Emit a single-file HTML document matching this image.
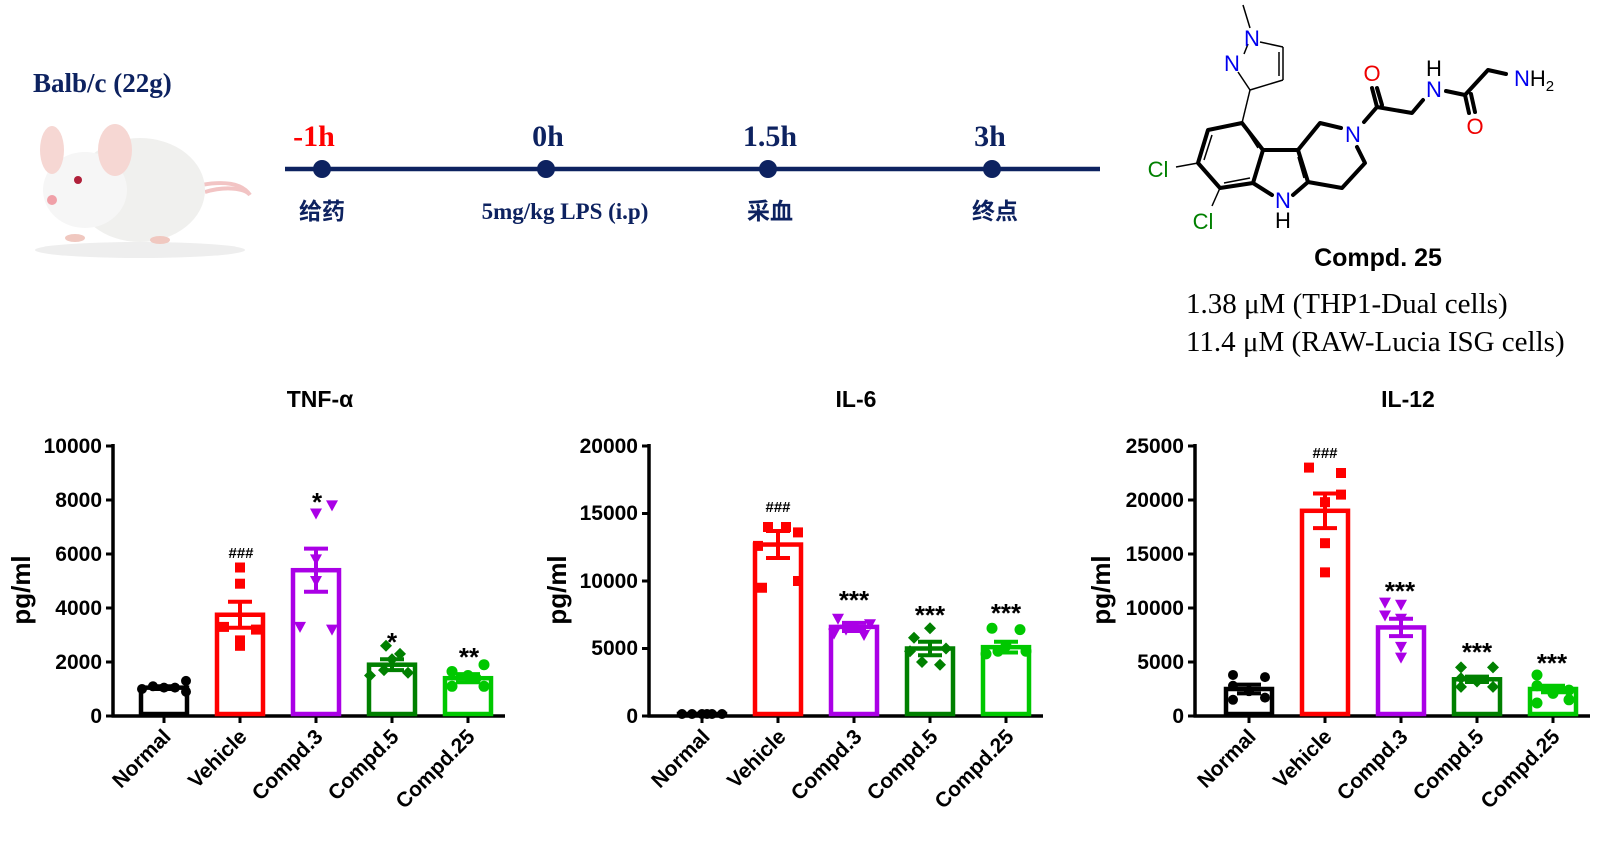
<!DOCTYPE html>
<html><head><meta charset="utf-8"><style>
html,body{margin:0;padding:0;background:#fff;width:1608px;height:841px;overflow:hidden}
svg{display:block}
.t{font-family:"Liberation Sans",Arial,sans-serif;font-weight:bold}
.s{font-family:"Liberation Serif","Noto Serif CJK SC",serif;font-weight:bold;fill:#0d2260}
.cn{font-family:"Noto Sans CJK SC","WenQuanYi Zen Hei",sans-serif;font-weight:bold;fill:#0d2260}
.at{font-family:"Liberation Sans",Arial,sans-serif;font-size:22px}
</style></head><body>
<svg id="s" width="1608" height="841" viewBox="0 0 1608 841" xmlns="http://www.w3.org/2000/svg">
<text x="33" y="92" class="s" font-size="27">Balb/c (22g)</text>
<g>
<ellipse cx="140" cy="250" rx="105" ry="8" fill="#eee"/>
<path d="M180 190 C215 180 240 180 250 195 C245 188 225 186 205 192" fill="none" stroke="#f2c4c4" stroke-width="4"/>
<ellipse cx="140" cy="190" rx="65" ry="52" fill="#f0f0ee"/>
<ellipse cx="85" cy="190" rx="42" ry="38" fill="#f6f6f6"/>
<ellipse cx="52" cy="150" rx="12" ry="24" fill="#f6d7d3"/>
<ellipse cx="115" cy="150" rx="17" ry="26" fill="#f6d7d3"/>
<circle cx="78" cy="180" r="4" fill="#b0203a"/>
<circle cx="52" cy="200" r="5" fill="#f0a0a8"/>
<ellipse cx="75" cy="238" rx="10" ry="4" fill="#f0c8c0"/>
<ellipse cx="160" cy="240" rx="10" ry="4" fill="#f0c8c0"/>
</g>
<line x1="285" y1="169" x2="1100" y2="169" stroke="#0d2260" stroke-width="4.5"/>
<circle cx="322" cy="169" r="9" fill="#0d2260"/>
<circle cx="546" cy="169" r="9" fill="#0d2260"/>
<circle cx="768" cy="169" r="9" fill="#0d2260"/>
<circle cx="992" cy="169" r="9" fill="#0d2260"/>
<text x="314" y="146" class="s" font-size="30" text-anchor="middle" style="fill:#ff0000">-1h</text>
<text x="548" y="146" class="s" font-size="30" text-anchor="middle">0h</text>
<text x="770" y="146" class="s" font-size="30" text-anchor="middle">1.5h</text>
<text x="990" y="146" class="s" font-size="30" text-anchor="middle">3h</text>
<text x="322" y="219" class="cn" font-size="23" text-anchor="middle">给药</text>
<text x="565" y="219" class="s" font-size="23" text-anchor="middle">5mg/kg  LPS (i.p)</text>
<text x="770" y="219" class="cn" font-size="23" text-anchor="middle">采血</text>
<text x="995" y="219" class="cn" font-size="23" text-anchor="middle">终点</text>
<g stroke="#000" stroke-width="1.5" fill="none">
<line x1="1243" y1="5" x2="1250" y2="28"/>
<line x1="1260" y1="42" x2="1283" y2="47"/>
<line x1="1283" y1="47" x2="1283" y2="80"/>
<line x1="1279" y1="52" x2="1279" y2="76"/>
<line x1="1283" y1="80" x2="1250" y2="90"/>
<line x1="1250" y1="90" x2="1238" y2="72"/>
<line x1="1244" y1="54" x2="1248" y2="44"/>
<line x1="1250" y1="90" x2="1242" y2="123"/>
<line x1="1198" y1="163" x2="1176" y2="167"/>
<line x1="1220" y1="188" x2="1212" y2="206"/>
<line x1="1212" y1="135" x2="1204" y2="160"/>
<line x1="1224" y1="183" x2="1250" y2="178"/>
<line x1="1245" y1="128" x2="1258" y2="148"/>
<line x1="1298" y1="157" x2="1304" y2="178"/>
</g>
<g stroke="#000" stroke-width="4" fill="none" stroke-linejoin="round" stroke-linecap="round">
<polyline points="1242,123 1208,130 1198,163 1220,188 1253,183 1263,150 1242,123"/>
<line x1="1263" y1="150" x2="1298" y2="150"/>
<polyline points="1253,183 1272,195"/>
<polyline points="1293,195 1308,182 1298,150"/>
<polyline points="1298,150 1320,123 1341,128"/>
<polyline points="1357,147 1365,163 1342,188 1308,182"/>
<polyline points="1364,122 1377,107 1412,113 1423,100"/>
<line x1="1377" y1="107" x2="1372" y2="88"/>
<line x1="1382" y1="105" x2="1377" y2="88"/>
<polyline points="1446,91 1465,95 1488,70 1506,74"/>
<line x1="1465" y1="95" x2="1469" y2="113"/>
<line x1="1471" y1="94" x2="1475" y2="112"/>
</g>
<g class="at" text-anchor="middle">
<text x="1252" y="46" fill="#0000ee">N</text>
<text x="1232" y="71" fill="#0000ee">N</text>
<text x="1353" y="142" fill="#0000ee">N</text>
<text x="1283" y="208" fill="#0000ee">N</text>
<text x="1283" y="228" fill="#000">H</text>
<text x="1434" y="97" fill="#0000ee">N</text>
<text x="1434" y="76" fill="#000">H</text>
<text x="1372" y="81" fill="#ee0000">O</text>
<text x="1475" y="134" fill="#ee0000">O</text>
<text x="1158" y="177" fill="#008000">Cl</text>
<text x="1203" y="229" fill="#008000">Cl</text>
</g>
<text x="1514" y="86" class="at" fill="#0000ee" text-anchor="start">N<tspan fill="#000">H</tspan><tspan fill="#000" font-size="15" dy="5">2</tspan></text>
<text x="1378" y="266" class="t" font-size="25" text-anchor="middle">Compd. 25</text>
<text x="1186" y="313" font-family="Liberation Serif,serif" font-size="29">1.38 μM (THP1-Dual cells)</text>
<text x="1186" y="351" font-family="Liberation Serif,serif" font-size="29">11.4 μM (RAW-Lucia ISG cells)</text>

<text x="320" y="407" class="t" font-size="23" text-anchor="middle">TNF-α</text>
<text x="856" y="407" class="t" font-size="23" text-anchor="middle">IL-6</text>
<text x="1408" y="407" class="t" font-size="23" text-anchor="middle">IL-12</text>
<text transform="translate(30,590) rotate(-90)" class="t" font-size="26" text-anchor="middle">pg/ml</text>
<text transform="translate(566,590) rotate(-90)" class="t" font-size="26" text-anchor="middle">pg/ml</text>
<text transform="translate(1121,590) rotate(-90)" class="t" font-size="26" text-anchor="middle" dx="0" dy="-11">pg/ml</text>
<g class="t" font-size="21" text-anchor="end">
<text x="102" y="453">10000</text><text x="102" y="507">8000</text><text x="102" y="561">6000</text><text x="102" y="615">4000</text><text x="102" y="669">2000</text><text x="102" y="723">0</text>
<text x="638" y="453">20000</text><text x="638" y="520">15000</text><text x="638" y="588">10000</text><text x="638" y="655">5000</text><text x="638" y="723">0</text>
<text x="1184" y="453">25000</text><text x="1184" y="507">20000</text><text x="1184" y="561">15000</text><text x="1184" y="615">10000</text><text x="1184" y="669">5000</text><text x="1184" y="723">0</text>
</g>
<g class="t" font-size="21" text-anchor="end">
<text transform="translate(172,738) rotate(-45)">Normal</text>
<text transform="translate(248,738) rotate(-45)">Vehicle</text>
<text transform="translate(324,738) rotate(-45)">Compd.3</text>
<text transform="translate(400,738) rotate(-45)">Compd.5</text>
<text transform="translate(476,738) rotate(-45)">Compd.25</text>
<text transform="translate(711,738) rotate(-45)">Normal</text>
<text transform="translate(787,738) rotate(-45)">Vehicle</text>
<text transform="translate(863,738) rotate(-45)">Compd.3</text>
<text transform="translate(939,738) rotate(-45)">Compd.5</text>
<text transform="translate(1015,738) rotate(-45)">Compd.25</text>
<text transform="translate(1257,738) rotate(-45)">Normal</text>
<text transform="translate(1333,738) rotate(-45)">Vehicle</text>
<text transform="translate(1409,738) rotate(-45)">Compd.3</text>
<text transform="translate(1485,738) rotate(-45)">Compd.5</text>
<text transform="translate(1561,738) rotate(-45)">Compd.25</text>
</g>
<g class="t" text-anchor="middle">
<text x="241" y="558" font-size="15">###</text>
<text x="317" y="511" font-size="26">*</text>
<text x="392" y="651" font-size="26">*</text>
<text x="469" y="666" font-size="26">**</text>
<text x="778" y="512" font-size="15">###</text>
<text x="854" y="609" font-size="26">***</text>
<text x="930" y="624" font-size="26">***</text>
<text x="1006" y="622" font-size="26">***</text>
<text x="1325" y="458" font-size="15">###</text>
<text x="1400" y="600" font-size="26">***</text>
<text x="1477" y="661" font-size="26">***</text>
<text x="1552" y="672" font-size="26">***</text>
</g>
<g id="g"></g>
</svg>
<script>
var NS="http://www.w3.org/2000/svg",G=document.getElementById("g");
function el(t,a){var e=document.createElementNS(NS,t);for(var k in a)e.setAttribute(k,a[k]);G.appendChild(e);return e;}
var cols=["#000","#ff0000","#aa00e6","#008000","#00c800"];
function mk(type,x,y,c){
 if(type==0)el("circle",{cx:x,cy:y,r:5,fill:c});
 else if(type==1)el("rect",{x:x-5,y:y-5,width:10,height:10,fill:c});
 else if(type==2)el("polygon",{points:(x-6)+","+(y-5)+" "+(x+6)+","+(y-5)+" "+x+","+(y+6),fill:c});
 else if(type==3)el("polygon",{points:x+","+(y-6)+" "+(x+6)+","+y+" "+x+","+(y+6)+" "+(x-6)+","+y,fill:c});
 else el("circle",{cx:x,cy:y,r:5.5,fill:c});
}
function chart(ax,first,max,data){
 var y0=716,h=270,sc=h/max,xe=first+4*76+37;
 el("line",{x1:ax,y1:444,x2:ax,y2:y0+1.5,stroke:"#000","stroke-width":3.5});
 el("line",{x1:ax-1.5,y1:y0,x2:xe,y2:y0,stroke:"#000","stroke-width":3.5});
 var n=(max==20000?4:5);
 for(var i=0;i<=n;i++){var yy=y0-i*h/n;el("line",{x1:ax-7,y1:yy,x2:ax,y2:yy,stroke:"#000","stroke-width":3});}
 data.forEach(function(d,i){
  var cx=first+i*76,c=cols[i],yt=y0-d.m*sc;
  el("line",{x1:cx,y1:y0,x2:cx,y2:y0+7,stroke:"#000","stroke-width":3});
  el("rect",{x:cx-23,y:yt,width:46,height:y0-yt-2,fill:"#fff",stroke:c,"stroke-width":4.5});
  d.p.forEach(function(v,j){mk(i,cx+d.o[j],y0-v*sc,c);});
  var ys=y0-(d.m+d.s)*sc,yl=y0-(d.m-d.s)*sc;
  el("line",{x1:cx,y1:ys,x2:cx,y2:yl,stroke:c,"stroke-width":4});
  el("line",{x1:cx-12,y1:ys,x2:cx+12,y2:ys,stroke:c,"stroke-width":4});
  el("line",{x1:cx-12,y1:yl,x2:cx+12,y2:yl,stroke:c,"stroke-width":4});
 });
}
chart(113,164,10000,[
 {m:1050,s:50,p:[1000,1100,1050,1050,1300,900],o:[-22,-11,0,11,22,22]},
 {m:3750,s:480,p:[5500,4900,3300,3200,2800,2600],o:[0,0,-16,16,0,0]},
 {m:5400,s:800,p:[7800,7500,5800,5000,3300,3200],o:[16,0,0,0,-16,16]},
 {m:1900,s:200,p:[2600,2300,2100,1700,1600,1500],o:[-6,8,0,-8,16,-22]},
 {m:1400,s:150,p:[1900,1650,1500,1400,1100,1100],o:[16,-16,0,8,-16,16]}]);
chart(649,702,20000,[
 {m:150,s:20,p:[150,150,150,150,150,150],o:[-20,-10,0,10,20,5]},
 {m:12700,s:1000,p:[14000,14000,13600,12600,10000,9500],o:[-10,8,20,-20,20,-16]},
 {m:6600,s:300,p:[7200,6800,6600,6400,6000,6100],o:[-16,16,0,-8,10,-20]},
 {m:5000,s:500,p:[6500,5800,5000,4800,4000,3800],o:[0,-16,16,-20,-8,10]},
 {m:5100,s:400,p:[6500,6400,5200,4800,4600,4800],o:[-14,14,0,20,-20,-8]}]);
chart(1195,1249,25000,[
 {m:2500,s:400,p:[3800,3600,2800,2300,1700,1500],o:[-16,16,-16,0,16,-16]},
 {m:19000,s:1600,p:[23000,22500,20500,19800,16000,13300],o:[-16,16,16,0,0,0]},
 {m:8200,s:800,p:[10500,10300,9300,9000,6400,5400],o:[-16,0,-16,0,0,0]},
 {m:3400,s:250,p:[4500,4500,3500,3200,2700,2700],o:[-16,16,-16,0,-16,16]},
 {m:2500,s:300,p:[3800,2800,2400,2100,1500,1200],o:[-16,-16,16,0,16,-16]}]);
</script>
</body></html>
